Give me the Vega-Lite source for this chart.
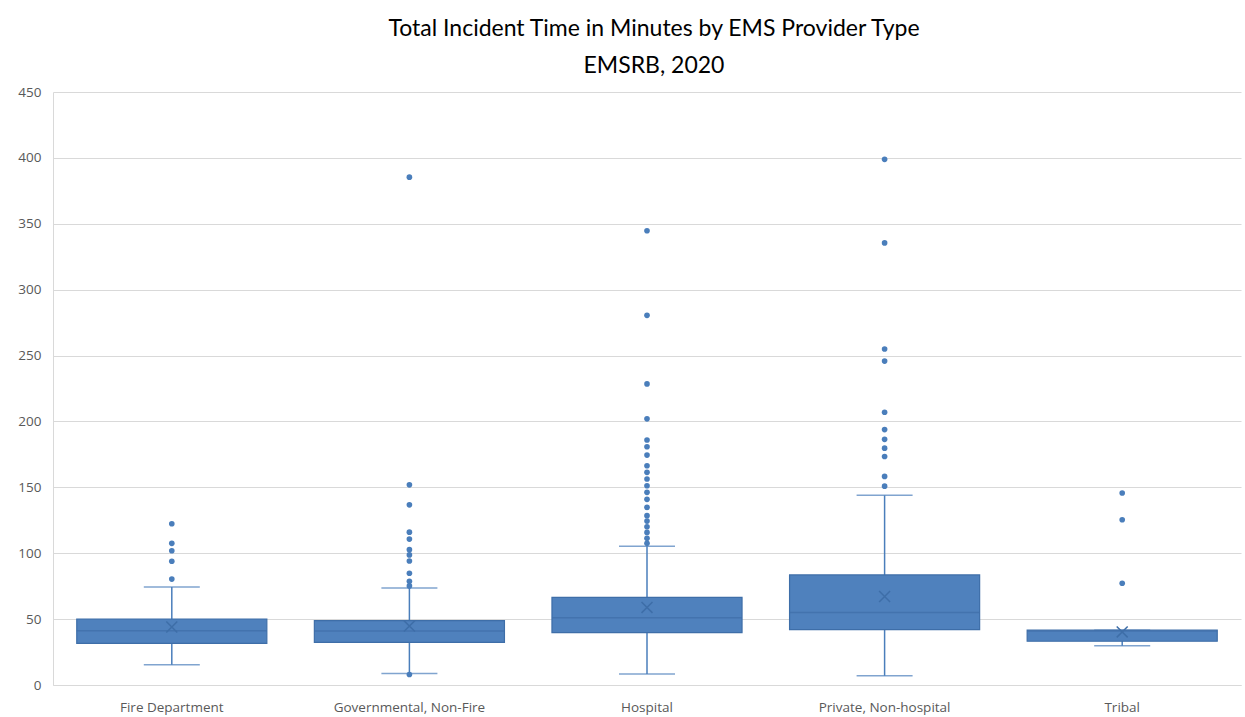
{
  "$schema": "https://vega.github.io/schema/vega-lite/v6.json",
  "width": 1188,
  "height": 593,
  "autosize": {"type": "none"},
  "padding": {"left": 53, "top": 92, "right": 4, "bottom": 32},
  "background": "white",
  "title": {
    "text": ["Total Incident Time in Minutes by EMS Provider Type", "EMSRB, 2020"],
    "font": "Lato",
    "fontSize": 23,
    "fontWeight": "normal",
    "color": "#000000",
    "lineHeight": 37,
    "anchor": "middle",
    "frame": "group",
    "dx": 7,
    "offset": 7
  },
  "config": {
    "view": {"stroke": null},
    "axis": {
      "labelFont": "Open Sans",
      "labelFontSize": 13.5,
      "labelColor": "#595959",
      "domainColor": "#d9d9d9",
      "gridColor": "#d9d9d9",
      "ticks": false,
      "title": null
    }
  },
  "datasets": {
    "stats": [
      {"type": "Fire Department", "lower": 15.4, "q1": 31.6, "median": 41.2, "q3": 50.1, "upper": 74.4, "mean": 44.0},
      {"type": "Governmental, Non-Fire", "lower": 8.8, "q1": 32.4, "median": 41.0, "q3": 48.9, "upper": 73.6, "mean": 44.7},
      {"type": "Hospital", "lower": 8.3, "q1": 39.7, "median": 51.1, "q3": 66.5, "upper": 105.2, "mean": 58.9},
      {"type": "Private, Non-hospital", "lower": 7.0, "q1": 42.0, "median": 55.0, "q3": 83.5, "upper": 143.9, "mean": 67.2},
      {"type": "Tribal", "lower": 29.7, "q1": 33.2, "median": 41.0, "q3": 41.6, "upper": 41.6, "mean": 40.3}
    ],
    "outliers": [
      {"type": "Fire Department", "value": 122.4},
      {"type": "Fire Department", "value": 107.5},
      {"type": "Fire Department", "value": 101.9},
      {"type": "Fire Department", "value": 93.9},
      {"type": "Fire Department", "value": 80.4},
      {"type": "Governmental, Non-Fire", "value": 385.4},
      {"type": "Governmental, Non-Fire", "value": 151.9},
      {"type": "Governmental, Non-Fire", "value": 136.7},
      {"type": "Governmental, Non-Fire", "value": 116.0},
      {"type": "Governmental, Non-Fire", "value": 110.7},
      {"type": "Governmental, Non-Fire", "value": 102.7},
      {"type": "Governmental, Non-Fire", "value": 98.7},
      {"type": "Governmental, Non-Fire", "value": 94.1},
      {"type": "Governmental, Non-Fire", "value": 84.8},
      {"type": "Governmental, Non-Fire", "value": 78.7},
      {"type": "Governmental, Non-Fire", "value": 75.2},
      {"type": "Governmental, Non-Fire", "value": 8.0},
      {"type": "Hospital", "value": 344.7},
      {"type": "Hospital", "value": 280.5},
      {"type": "Hospital", "value": 228.5},
      {"type": "Hospital", "value": 202.0},
      {"type": "Hospital", "value": 185.9},
      {"type": "Hospital", "value": 180.8},
      {"type": "Hospital", "value": 174.5},
      {"type": "Hospital", "value": 166.4},
      {"type": "Hospital", "value": 161.4},
      {"type": "Hospital", "value": 156.3},
      {"type": "Hospital", "value": 151.2},
      {"type": "Hospital", "value": 146.2},
      {"type": "Hospital", "value": 140.9},
      {"type": "Hospital", "value": 134.8},
      {"type": "Hospital", "value": 128.5},
      {"type": "Hospital", "value": 124.4},
      {"type": "Hospital", "value": 120.1},
      {"type": "Hospital", "value": 115.8},
      {"type": "Hospital", "value": 111.3},
      {"type": "Hospital", "value": 107.5},
      {"type": "Private, Non-hospital", "value": 398.9},
      {"type": "Private, Non-hospital", "value": 335.5},
      {"type": "Private, Non-hospital", "value": 255.0},
      {"type": "Private, Non-hospital", "value": 245.8},
      {"type": "Private, Non-hospital", "value": 207.0},
      {"type": "Private, Non-hospital", "value": 193.8},
      {"type": "Private, Non-hospital", "value": 186.4},
      {"type": "Private, Non-hospital", "value": 179.7},
      {"type": "Private, Non-hospital", "value": 173.4},
      {"type": "Private, Non-hospital", "value": 158.3},
      {"type": "Private, Non-hospital", "value": 150.9},
      {"type": "Tribal", "value": 145.7},
      {"type": "Tribal", "value": 125.4},
      {"type": "Tribal", "value": 77.2}
    ]
  },
  "encoding": {
    "x": {
      "field": "type",
      "type": "nominal",
      "sort": null,
      "scale": {"paddingInner": 0.2, "paddingOuter": 0.1},
      "axis": {"labelAngle": 0, "labelPadding": 15, "domainColor": "#d9d9d9"}
    }
  },
  "layer": [
    {
      "data": {"name": "stats"},
      "mark": {"type": "rule", "color": "#4a7ebb", "strokeWidth": 1.5},
      "encoding": {
        "y": {
          "field": "lower",
          "type": "quantitative",
          "scale": {"domain": [0, 450], "nice": false},
          "axis": {"values": [0, 50, 100, 150, 200, 250, 300, 350, 400, 450], "labelPadding": 12, "grid": true, "gridWidth": 1.2}
        },
        "y2": {"field": "upper"}
      }
    },
    {
      "data": {"name": "stats"},
      "mark": {"type": "tick", "color": "#4a7ebb", "size": 56, "thickness": 1.5},
      "encoding": {"y": {"field": "lower", "type": "quantitative"}}
    },
    {
      "data": {"name": "stats"},
      "mark": {"type": "tick", "color": "#4a7ebb", "size": 56, "thickness": 1.5},
      "encoding": {"y": {"field": "upper", "type": "quantitative"}}
    },
    {
      "data": {"name": "stats"},
      "mark": {"type": "bar", "color": "#4f81bd", "stroke": "#3e6ea8", "strokeWidth": 1.2},
      "encoding": {
        "y": {"field": "q1", "type": "quantitative"},
        "y2": {"field": "q3"}
      }
    },
    {
      "data": {"name": "stats"},
      "mark": {"type": "tick", "color": "#3e6ea8", "size": 190, "thickness": 1.5},
      "encoding": {"y": {"field": "median", "type": "quantitative"}}
    },
    {
      "data": {"name": "stats"},
      "mark": {"type": "point", "shape": "M-1,-1L1,1M-1,1L1,-1", "filled": false, "stroke": "#3e6ea8", "strokeWidth": 1.5, "size": 120, "opacity": 1},
      "encoding": {"y": {"field": "mean", "type": "quantitative"}}
    },
    {
      "data": {"name": "outliers"},
      "mark": {"type": "circle", "color": "#4a7ebb", "size": 32, "opacity": 1},
      "encoding": {"y": {"field": "value", "type": "quantitative"}}
    }
  ]
}
